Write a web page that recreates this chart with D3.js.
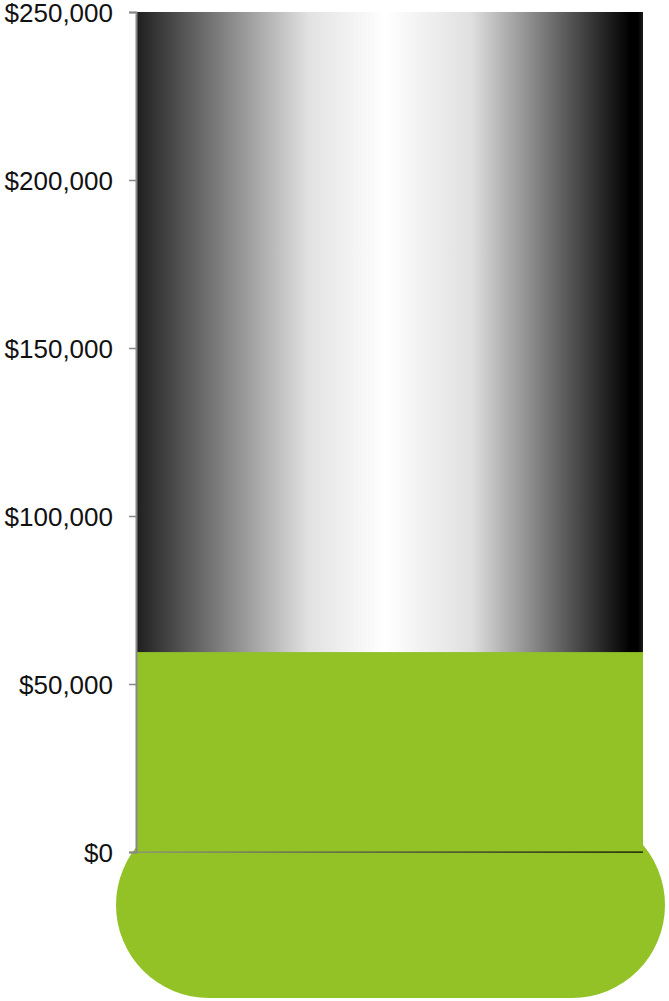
<!DOCTYPE html>
<html>
<head>
<meta charset="utf-8">
<script src="https://cdn.jsdelivr.net/npm/d3@7"></script>
<style>
  body { margin: 0; background: #fff; }
  svg { display: block; }
  .axis text { font-family: "Liberation Sans", Arial, sans-serif; font-size: 26px; fill: #111; }
</style>
</head>
<body>
<div id="chart"></div>
<script>
var raised = [59500];
var scaleMax = [250000];
var tickValues = [0, 50000, 100000, 150000, 200000, 250000];

var width = 669, height = 1001;
var tubeLeft = 137, tubeRight = 643, tubeTop = 12, tubeBottom = 852;

var svg = d3.select('#chart').append('svg')
    .attr('width', width)
    .attr('height', height);

var defs = svg.append('defs');

// glass tube shading, dark edges with a bright band a bit left of centre
var glass = defs.append('linearGradient').attr('id', 'glass')
    .attr('x1', '0%').attr('x2', '100%').attr('y1', '0%').attr('y2', '0%');
[[0, '#202020'], [0.34, '#e2e2e2'], [0.49, '#ffffff'], [0.66, '#e0e0e0'], [0.975, '#000000'], [0.99, '#000000'], [1, '#1c1c1c']]
    .forEach(function (s) {
        glass.append('stop').attr('offset', s[0]).attr('stop-color', s[1]);
    });

var baseGrad = defs.append('linearGradient').attr('id', 'baseGrad')
    .attr('x1', '0%').attr('x2', '100%');
baseGrad.append('stop').attr('offset', 0).attr('stop-color', '#8a8a8a');
baseGrad.append('stop').attr('offset', 1).attr('stop-color', '#000');

var y = d3.scaleLinear().domain([0, scaleMax[0]]).range([tubeBottom, tubeTop]);
var x = d3.scaleBand().domain(['tube']).range([tubeLeft, tubeRight]).padding(0);

var green = '#92c226';

// bulb sits under the tube
svg.append('rect')
    .attr('x', 116)
    .attr('y', 812)
    .attr('width', 549)
    .attr('height', 186)
    .attr('rx', 93)
    .attr('ry', 93)
    .attr('fill', green);

// empty tube
svg.append('rect')
    .attr('x', x('tube'))
    .attr('y', y(scaleMax[0]))
    .attr('width', x.bandwidth())
    .attr('height', y(0) - y(scaleMax[0]))
    .attr('fill', 'url(#glass)');

// fill level
svg.selectAll('rect.level').data(raised).enter().append('rect')
    .attr('class', 'level')
    .attr('x', x('tube'))
    .attr('y', function (d) { return y(d); })
    .attr('width', x.bandwidth())
    .attr('height', function (d) { return y(0) - y(d); })
    .attr('fill', green);

// zero line across the tube
svg.append('rect')
    .attr('x', x('tube'))
    .attr('y', y(0) - 0.5)
    .attr('width', x.bandwidth())
    .attr('height', 1.2)
    .attr('fill', 'url(#baseGrad)');

var axis = d3.axisLeft(y)
    .tickValues(tickValues)
    .tickSize(7)
    .tickPadding(16)
    .tickFormat(function (d) { return '$' + d3.format(',')(d); });

var g = svg.append('g')
    .attr('class', 'axis')
    .attr('transform', 'translate(136,0)')
    .call(axis);

g.select('.domain').attr('stroke', '#888').attr('stroke-width', 2);
g.selectAll('.tick line').attr('stroke', '#888').attr('stroke-width', 1.5);
g.selectAll('.tick text').attr('dy', '0.35em');
</script>
</body>
</html>
